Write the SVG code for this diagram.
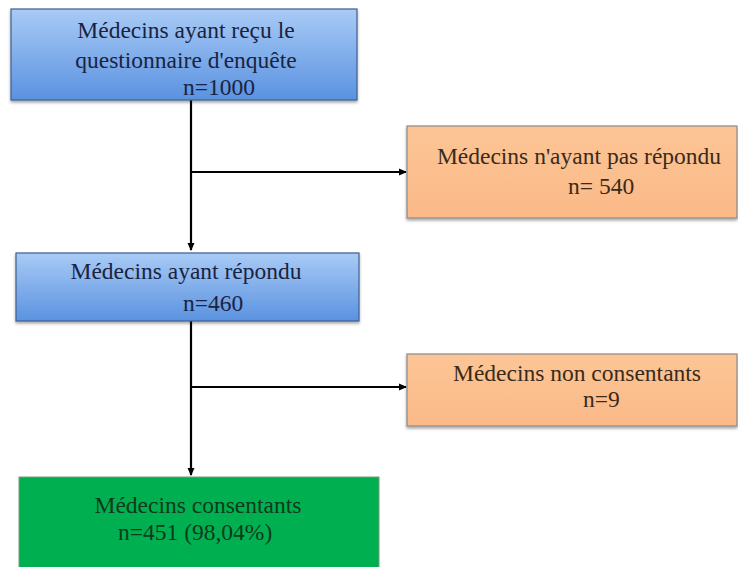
<svg xmlns="http://www.w3.org/2000/svg" width="738" height="567" viewBox="0 0 738 567">
<defs>
<linearGradient id="blue" x1="0" y1="0" x2="0" y2="1">
<stop offset="0" stop-color="#a9cbf6"/>
<stop offset="1" stop-color="#5a92e0"/>
</linearGradient>
<linearGradient id="orange" x1="0" y1="0" x2="0" y2="1">
<stop offset="0" stop-color="#fcc596"/>
<stop offset="1" stop-color="#fbb987"/>
</linearGradient>
<filter id="sh" x="-5%" y="-10%" width="110%" height="130%">
<feDropShadow dx="0" dy="2" stdDeviation="1.5" flood-color="#000" flood-opacity="0.35"/>
</filter>
<marker id="ah" markerWidth="8" markerHeight="8" refX="7" refY="4" orient="auto" markerUnits="userSpaceOnUse">
<path d="M0,0.5 L8,4 L0,7.5 Z" fill="#000"/>
</marker>
</defs>
<style>
.blue{fill:url(#blue);stroke:#3f5f8f;stroke-width:1.2;filter:url(#sh)}
.orange{fill:url(#orange);stroke:#8a8a8a;stroke-width:1.2;filter:url(#sh)}
.green{fill:#00b050;stroke:#7a9a7a;stroke-width:1}
text{font-family:"Liberation Serif","Times New Roman",serif;font-size:23.5px}
.tb{fill:#1a2340}
.to{fill:#3a2a1a}
.tg{fill:#0e3a1c}
.conn{stroke:#000;stroke-width:2.2;fill:none}
</style>
<rect width="738" height="567" fill="#fff"/>
<g id="connectors">
<line class="conn" x1="191" y1="100" x2="191" y2="250" marker-end="url(#ah)"/>
<line class="conn" x1="191" y1="172" x2="406" y2="172" marker-end="url(#ah)"/>
<line class="conn" x1="191" y1="321" x2="191" y2="475" marker-end="url(#ah)"/>
<line class="conn" x1="191" y1="387" x2="406" y2="387" marker-end="url(#ah)"/>
</g>
<g id="n1">
<rect class="blue" x="11" y="9" width="346" height="91"/>
<text class="tb" x="186" y="38" text-anchor="middle">Médecins ayant reçu le</text>
<text class="tb" x="186" y="68" text-anchor="middle">questionnaire d'enquête</text>
<text class="tb" x="183" y="95">n=1000</text>
</g>
<g id="n2">
<rect class="orange" x="407" y="126" width="330" height="92"/>
<text class="to" x="579" y="164" text-anchor="middle">Médecins n'ayant pas répondu</text>
<text class="to" x="568" y="194">n= 540</text>
</g>
<g id="n3">
<rect class="blue" x="16" y="253" width="343" height="68"/>
<text class="tb" x="186" y="279" text-anchor="middle">Médecins ayant répondu</text>
<text class="tb" x="183" y="311">n=460</text>
</g>
<g id="n4">
<rect class="orange" x="407" y="354" width="330" height="72"/>
<text class="to" x="577" y="381" text-anchor="middle">Médecins non consentants</text>
<text class="to" x="583" y="407">n=9</text>
</g>
<g id="n5">
<rect class="green" x="19" y="477" width="360" height="92"/>
<text class="tg" x="198" y="513" text-anchor="middle">Médecins consentants</text>
<text class="tg" x="118" y="540">n=451 (98,04%)</text>
</g>
</svg>
